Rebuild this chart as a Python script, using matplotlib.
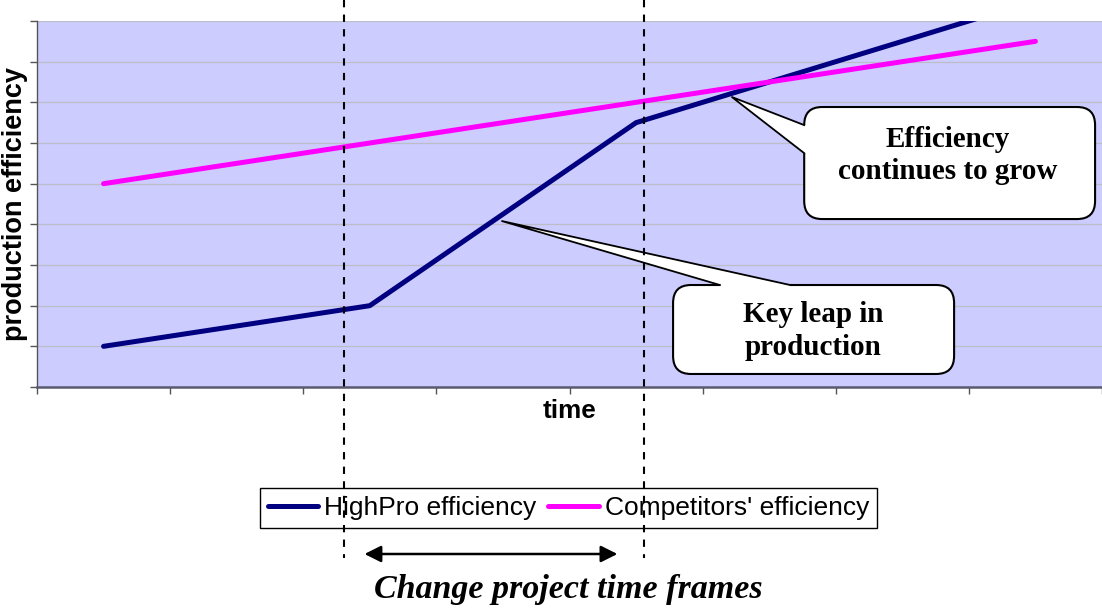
import matplotlib
matplotlib.use("Agg")
import matplotlib.pyplot as plt
import matplotlib.transforms as mtransforms
from matplotlib.patches import FancyBboxPatch, Polygon, FancyArrowPatch
from matplotlib.lines import Line2D
import numpy as np

# ---- data ----
periods = list(range(8))
highpro = [1.0, 1.5, 2.0, 4.25, 6.5, 7.5, 8.5, 9.5]
competitors = [5.0, 5.5, 6.0, 6.5, 7.0, 7.5, 8.0, 8.5]
series_labels = ["HighPro efficiency", "Competitors' efficiency"]
y_max = 9

# project window (in period units) and callout texts
project_start, project_end = 1.806, 4.06
arrow_start, arrow_end = 1.96, 3.86
note_growth = "Efficiency\ncontinues to grow"
note_leap = "Key leap in\nproduction"
footer = "Change project time frames"

W, H = 1102, 610
fig = plt.figure(figsize=(W / 100, H / 100), dpi=100)
ax = fig.add_axes([37 / W, (H - 387) / H, 1065 / W, 366 / H])

ax.set_facecolor("#CCCCFF")
ax.set_xlim(-0.5, len(periods) - 0.5)
ax.set_ylim(0, y_max)

l1, = ax.plot(periods, highpro, color="#000080", lw=3.6,
              solid_capstyle="round", zorder=3)
l2, = ax.plot(periods, competitors, color="#FF00FF", lw=3.6,
              solid_capstyle="round", zorder=3)

ax.set_yticks(np.arange(0, y_max + 1))
ax.set_xticks(np.arange(-0.5, len(periods), 1.0))
ax.tick_params(axis="both", direction="out", length=5, width=1,
               color="#555555", labelleft=False, labelbottom=False)
ax.yaxis.grid(True, color="#BDBDC8", lw=0.9)
ax.set_axisbelow(True)
for s in ("top", "right"):
    ax.spines[s].set_visible(False)
ax.spines["left"].set_color("#555555")
ax.spines["left"].set_linewidth(1.0)
ax.spines["bottom"].set_color("#5A5A70")
ax.spines["bottom"].set_linewidth(1.8)

ax.set_ylabel("production efficiency", fontsize=19.5, fontweight="bold",
              family="Liberation Sans", labelpad=1.3)
ax.set_xlabel("time", fontsize=18.8, fontweight="bold",
              family="Liberation Sans", labelpad=4)

# ---- callouts ----
px_x = 1065 / len(periods)
px_y = 366 / y_max
aspect = px_x / px_y


def callout(box, base, inward, tip, text, textpos):
    x0, y0, x1, y1 = box
    r = 18 / px_x
    patch = FancyBboxPatch((x0, y0), x1 - x0, y1 - y0,
                           boxstyle=f"round,pad=0,rounding_size={r}",
                           mutation_aspect=aspect, fc="white", ec="black",
                           lw=1.5, zorder=5, clip_on=False)
    ax.add_patch(patch)
    b0, b1 = base
    dx, dy = inward
    wedge = Polygon([b0, tip, b1, (b1[0] + dx, b1[1] + dy),
                     (b0[0] + dx, b0[1] + dy)], closed=True,
                    fc="white", ec="none", zorder=6, clip_on=False)
    ax.add_patch(wedge)
    ax.add_line(Line2D([b0[0], tip[0], b1[0]], [b0[1], tip[1], b1[1]],
                       color="black", lw=1.3, zorder=7, clip_on=False))
    ax.text(textpos[0], textpos[1], text, ha="center", va="center",
            fontsize=21, fontweight="bold", family="Liberation Serif",
            linespacing=1.25, zorder=8)


callout(box=(5.263, 4.13, 7.448, 6.885),
        base=((5.263, 6.44), (5.263, 5.75)), inward=(0.04, 0),
        tip=(4.72, 7.13), text=note_growth, textpos=(6.34, 5.70))
callout(box=(4.278, 0.32, 6.389, 2.508),
        base=((4.63, 2.508), (5.157, 2.508)), inward=(0, -0.12),
        tip=(2.993, 4.08), text=note_leap, textpos=(5.33, 1.38))

# ---- project window markers ----
blend = mtransforms.blended_transform_factory(ax.transData, fig.transFigure)
for xv in (project_start, project_end):
    ln = Line2D([xv, xv], [1.0, (H - 558) / H], transform=blend,
                color="black", lw=1.5, linestyle=(0, (3.5, 3.5)), zorder=10)
    fig.add_artist(ln)

fig.add_artist(FancyArrowPatch(
    (arrow_start, (H - 554) / H), (arrow_end, (H - 554) / H),
    transform=blend, arrowstyle="<|-|>", mutation_scale=25, lw=1.8,
    color="black", shrinkA=0, shrinkB=0, zorder=10))

fig.text(568.5 / W, (H - 598) / H, footer, ha="center", va="baseline",
         fontsize=24.5, fontweight="bold", fontstyle="italic",
         family="Liberation Serif")

# ---- legend ----
leg = fig.legend([l1, l2], series_labels, loc="center",
                 bbox_to_anchor=(568.5 / W, (H - 508) / H), ncol=2,
                 prop={"family": "Liberation Sans", "size": 19},
                 handlelength=1.9, handletextpad=0.25, columnspacing=0.45,
                 borderpad=0.3, fancybox=False, framealpha=1,
                 edgecolor="black")
leg.get_frame().set_linewidth(1.0)
leg.set_zorder(5)

fig.savefig("out.png", dpi=100)
